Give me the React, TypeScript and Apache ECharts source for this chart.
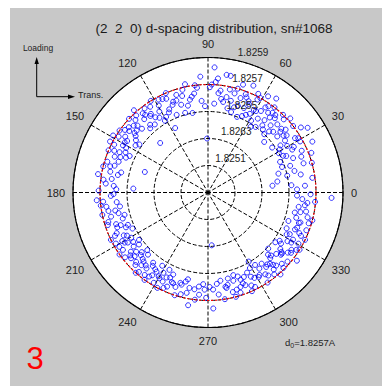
import React, { useEffect, useRef } from "react";
import * as echarts from "echarts";

const titleText = "(2  2  0) d-spacing distribution, sn#1068";
const angleTicks = [0, 30, 60, 90, 120, 150, 180, 210, 240, 270, 300, 330];
const ringValues = [1, 2, 3, 4, 5];
const ringLabels = ["1.8251", "1.8263", "1.8255", "1.8257", "1.8259"];
const refRadius = 4; // d0 ring
const d0Label = "1.8257A";
const panelNumber = "3";

// [radius (ring units), angle (deg)]
const points: [number, number][] = [
  [3.6, 4], [2.4, 6], [3.3, 2], [2.6, 9], [3.9, 8], [3.1, 5],
  [3.3, 14], [3.0, 12], [3.7, 17], [2.9, 19], [3.5, 11], [4.0, 16], [3.2, 18], [2.7, 15],
  [3.4, 22], [3.8, 24], [3.1, 26], [3.6, 28], [4.1, 21], [2.9, 23], [3.5, 27], [3.9, 29], [3.2, 25], [4.3, 26], [3.0, 29], [3.7, 21],
  [3.44, 34], [3.9, 31], [3.2, 33], [3.6, 36], [4.0, 38], [3.3, 39], [3.8, 32], [2.9, 35], [3.5, 37], [4.2, 35], [3.1, 31], [3.7, 39], [3.4, 30.5], [4.4, 33],
  [3.6, 41], [3.3, 43], [3.9, 44], [3.0, 46], [3.7, 48], [4.1, 42], [3.4, 47], [3.8, 49], [3.2, 45], [2.8, 42], [3.5, 40], [4.0, 46], [3.1, 49], [3.6, 44.5],
  [3.8, 51], [3.4, 52], [3.0, 54], [3.9, 55], [3.6, 57], [4.2, 58], [3.3, 56], [3.7, 53], [3.1, 59], [4.0, 52], [3.5, 59.5], [2.9, 57], [3.8, 56], [4.3, 54], [3.2, 51], [3.6, 50.5],
  [3.5, 61], [3.9, 62], [3.2, 64], [3.7, 66], [4.1, 63], [3.4, 67], [3.0, 69], [3.8, 68], [3.6, 65], [4.0, 61], [3.3, 62], [4.3, 67], [3.1, 66], [3.9, 69],
  [3.7, 71], [3.3, 73], [4.0, 74], [3.5, 76], [3.9, 78], [3.2, 77], [4.2, 72], [3.6, 79], [3.8, 75], [3.4, 71], [4.4, 79], [3.1, 74],
  [4.64, 87], [4.41, 81], [4.24, 85], [3.8, 83], [3.5, 82], [3.3, 86], [4.0, 88], [3.7, 84], [3.9, 89], [3.4, 80.5], [4.1, 86],
  [2.0, 91], [4.3, 93.8], [3.6, 99.6], [3.9, 96], [3.4, 94], [3.7, 98], [3.2, 92], [4.0, 97],
  [3.92, 104], [3.07, 106], [3.5, 101], [3.8, 108], [3.3, 103], [3.6, 109], [4.1, 102], [3.4, 107], [3.0, 101], [3.7, 105],
  [2.68, 117], [3.5, 112], [3.8, 114], [3.3, 116], [3.9, 118], [3.6, 111], [3.2, 119], [4.0, 113], [3.4, 115], [3.7, 119.5], [3.1, 112], [3.85, 116],
  [3.83, 124], [3.5, 121], [3.3, 123], [3.9, 127], [3.6, 126], [3.2, 128], [4.0, 122], [3.7, 129], [3.4, 125], [3.1, 121], [3.8, 129.5], [3.55, 127],
  [2.55, 134], [3.6, 131], [3.9, 133], [3.4, 136], [3.7, 138], [3.2, 132], [4.0, 137], [3.5, 139], [3.8, 135], [3.3, 130.5], [3.6, 136.5], [4.1, 132],
  [3.85, 143], [3.5, 141], [3.3, 144], [3.7, 146], [3.9, 148], [3.2, 147], [4.0, 145], [3.6, 149], [3.4, 142], [3.8, 140.5], [3.1, 145], [3.55, 147.5], [4.1, 149], [3.7, 142],
  [4.09, 152.5], [3.6, 151], [3.4, 154], [3.8, 156], [3.5, 158], [3.9, 153], [3.3, 157], [3.7, 159], [3.2, 155], [4.0, 157], [3.6, 155.5], [3.45, 151.5],
  [3.75, 165], [2.46, 162], [3.5, 161], [3.9, 163], [3.3, 167], [3.7, 168], [3.6, 164], [3.4, 169], [4.0, 166],
  [4.13, 170.5], [2.77, 177], [3.6, 172], [3.8, 175], [3.4, 178], [3.9, 173], [3.5, 176], [4.05, 179],
  [4.13, 184], [3.6, 182], [3.4, 186], [3.8, 188], [3.5, 181], [3.9, 185], [3.3, 189], [4.0, 187],
  [3.85, 196.5], [3.5, 191], [3.7, 194], [3.3, 197], [4.0, 192], [3.6, 199], [3.4, 193], [3.9, 198], [3.2, 195], [3.75, 190.5],
  [3.6, 201], [3.3, 203], [3.8, 205], [3.5, 207], [3.9, 209], [3.2, 202], [3.7, 204], [4.0, 206], [3.4, 208], [3.1, 205.5], [3.65, 209.5], [3.45, 200.5],
  [3.32, 213.5], [3.6, 211], [3.8, 214], [3.4, 216], [3.9, 218], [3.5, 212], [3.7, 219], [3.2, 217], [4.0, 215], [3.3, 210.5], [3.6, 217.5], [3.85, 211.5], [3.45, 219.5], [3.1, 214.5],
  [3.6, 221], [3.4, 223], [3.8, 225], [3.5, 227], [3.9, 229], [3.3, 222], [3.7, 224], [4.0, 228], [3.2, 226], [3.55, 229.5], [3.75, 220.5], [3.45, 225.5], [3.1, 223.5], [3.65, 227.5],
  [3.62, 231], [3.4, 233], [3.8, 235], [3.5, 237], [3.9, 239], [3.3, 232], [3.7, 236], [4.0, 234], [3.2, 238], [3.6, 239.5], [3.45, 235.5], [3.85, 232.5],
  [3.58, 248], [3.4, 241], [3.7, 243], [3.9, 245], [3.3, 247], [3.6, 249], [4.0, 242], [3.5, 244], [3.8, 246.5], [3.2, 243.5], [3.65, 240.5], [3.45, 246],
  [3.7, 251], [3.5, 253], [3.9, 255], [3.3, 257], [3.6, 259], [4.0, 252], [3.4, 256], [3.8, 258], [3.55, 254],
  [4.24, 260], [3.62, 262], [3.8, 265], [3.4, 267], [4.0, 263], [3.6, 268], [3.5, 264.5], [3.9, 269],
  [1.96, 274], [4.3, 272.6], [3.5, 271], [3.8, 276], [3.3, 278], [3.6, 273], [4.0, 279], [3.4, 275.5],
  [3.27, 283], [3.6, 281], [3.8, 284], [3.4, 286], [3.9, 288], [3.5, 282], [3.7, 289], [3.2, 287], [4.0, 285], [3.55, 280.5], [3.3, 289.5], [3.75, 286.5],
  [3.91, 296.5], [3.6, 291], [3.4, 293], [3.8, 295], [3.5, 297], [3.2, 299], [3.7, 292], [4.0, 294], [3.3, 296], [3.6, 298.5], [3.45, 290.5],
  [2.97, 300.5], [3.6, 302], [3.4, 304], [3.8, 306], [3.5, 308], [3.2, 303], [3.7, 305], [3.9, 309], [3.3, 307], [3.65, 301], [3.45, 309.5], [4.0, 303.5],
  [3.05, 317], [3.5, 311], [3.7, 313], [3.3, 315], [3.9, 319], [3.6, 312], [3.4, 318], [3.8, 316], [3.2, 314], [4.05, 311.5], [3.55, 319.5], [3.75, 310.5], [3.35, 313.5], [3.95, 315],
  [3.5, 321], [3.7, 323], [3.3, 325], [3.9, 327], [3.6, 329], [3.4, 322], [3.8, 324], [3.2, 326], [4.0, 328], [3.55, 320.5], [3.75, 325.5], [3.45, 328.5], [4.15, 322.5], [3.1, 323.5],
  [3.6, 331], [3.4, 333], [3.8, 335], [3.5, 337], [3.9, 339], [3.3, 332], [3.7, 336], [4.0, 334], [3.55, 338.5], [3.2, 335.5], [3.85, 330.5],
  [3.16, 340.5], [3.6, 342], [3.4, 344], [3.8, 346], [3.5, 348], [3.9, 343], [3.3, 347], [3.7, 349], [4.0, 345], [3.55, 341.5],
  [4.58, 357.5], [3.62, 352.5], [3.98, 355], [3.4, 351], [3.7, 354], [3.3, 358], [3.8, 359], [3.5, 356],
];

const FONT = "Liberation Sans, Arial, sans-serif";

export default function App() {
  const ref = useRef<HTMLDivElement>(null);
  useEffect(() => {
    if (!ref.current) return;
    const chart = echarts.init(ref.current, undefined, { renderer: "svg" });
    const refCircle: [number, number][] = [];
    for (let a = 0; a <= 360; a += 2) refCircle.push([refRadius, a]);

    chart.setOption({
      animation: false,
      backgroundColor: "#c8c8c8",
      title: {
        text: titleText,
        left: 199,
        top: 8,
        textAlign: "center",
        textStyle: { fontFamily: FONT, fontSize: 13.5, fontWeight: "normal", color: "#1a1a1a" },
      },
      polar: { center: [198, 184.5], radius: 135 },
      angleAxis: {
        type: "value",
        min: 0,
        max: 360,
        interval: 30,
        startAngle: 0,
        clockwise: false,
        z: 2,
        axisLine: { show: true, lineStyle: { color: "#000", width: 1.2 } },
        axisTick: { show: false },
        axisLabel: {
          margin: 8,
          fontFamily: FONT,
          fontSize: 11,
          color: "#222",
          formatter: (v: number) => (angleTicks.indexOf(v) >= 0 ? String(v) : ""),
        },
        splitLine: { show: true, lineStyle: { color: "#000", type: "dashed", width: 1 } },
      },
      radiusAxis: {
        min: 0,
        max: 5,
        interval: 1,
        z: 2,
        axisLine: { show: false },
        axisTick: { show: false },
        axisLabel: { show: false },
        splitLine: { show: true, lineStyle: { color: "#000", type: "dashed", width: 1 } },
      },
      series: [
        {
          type: "scatter",
          coordinateSystem: "polar",
          data: points,
          symbol: "circle",
          symbolSize: 5,
          itemStyle: { color: "rgba(255,255,255,0)", borderColor: "#0000ff", borderWidth: 1 },
          z: 3,
        },
        {
          type: "line",
          coordinateSystem: "polar",
          data: refCircle,
          showSymbol: false,
          lineStyle: { color: "#ff0000", type: [2, 2], width: 1.2 },
          z: 4,
        },
      ],
    });

    const c0 = chart.convertToPixel({ seriesIndex: 0 }, [0, 0]) as number[];
    const c5 = chart.convertToPixel({ seriesIndex: 0 }, [5, 0]) as number[];
    const outerR = Math.abs(c5[0] - c0[0]);

    const ringTexts = ringValues.map((r, i) => {
      const p = chart.convertToPixel({ seriesIndex: 0 }, [r + 0.3, 78]) as number[];
      return {
        type: "text",
        x: p[0],
        y: p[1],
        z: 10,
        style: {
          text: ringLabels[i],
          fontFamily: FONT,
          fontSize: 10,
          fill: "#222",
          align: "left",
          verticalAlign: "middle",
        },
      };
    });

    chart.setOption({
      graphic: [
        { type: "circle", z: -10, silent: true, shape: { cx: c0[0], cy: c0[1], r: outerR }, style: { fill: "#ffffff" } },
        ...ringTexts,
        { type: "line", shape: { x1: 26.7, y1: 88.7, x2: 26.7, y2: 54 }, style: { stroke: "#000", lineWidth: 1 } },
        { type: "polygon", shape: { points: [[26.7, 49], [24.5, 56], [28.9, 56]] }, style: { fill: "#000" } },
        { type: "line", shape: { x1: 26.7, y1: 88.7, x2: 60, y2: 88.7 }, style: { stroke: "#000", lineWidth: 1 } },
        { type: "polygon", shape: { points: [[65, 88.7], [58, 86.5], [58, 90.9]] }, style: { fill: "#000" } },
        { type: "text", x: 28, y: 40, style: { text: "Loading", fontFamily: FONT, fontSize: 8.5, fill: "#222", align: "center", verticalAlign: "middle" } },
        { type: "text", x: 68, y: 87, style: { text: "Trans.", fontFamily: FONT, fontSize: 9, fill: "#222", align: "left", verticalAlign: "middle" } },
        {
          type: "text",
          x: 275,
          y: 334,
          style: {
            text: "d{s|0}=" + d0Label,
            fontFamily: FONT,
            fontSize: 9.5,
            fill: "#222",
            align: "left",
            verticalAlign: "middle",
            rich: { s: { fontSize: 7, fontFamily: FONT, fill: "#222", padding: [6, 0, 0, 0] } },
          },
        },
        { type: "text", x: 25, y: 350, style: { text: panelNumber, fontFamily: FONT, fontSize: 31, fill: "#ff0000", align: "center", verticalAlign: "middle" } },
      ],
    });

    return () => chart.dispose();
  }, []);

  return (
    <div style={{ position: "fixed", left: 0, top: 0, width: 382, height: 386, background: "#fff" }}>
      <div ref={ref} style={{ position: "absolute", left: 10, top: 8, width: 372, height: 378 }} />
    </div>
  );
}
